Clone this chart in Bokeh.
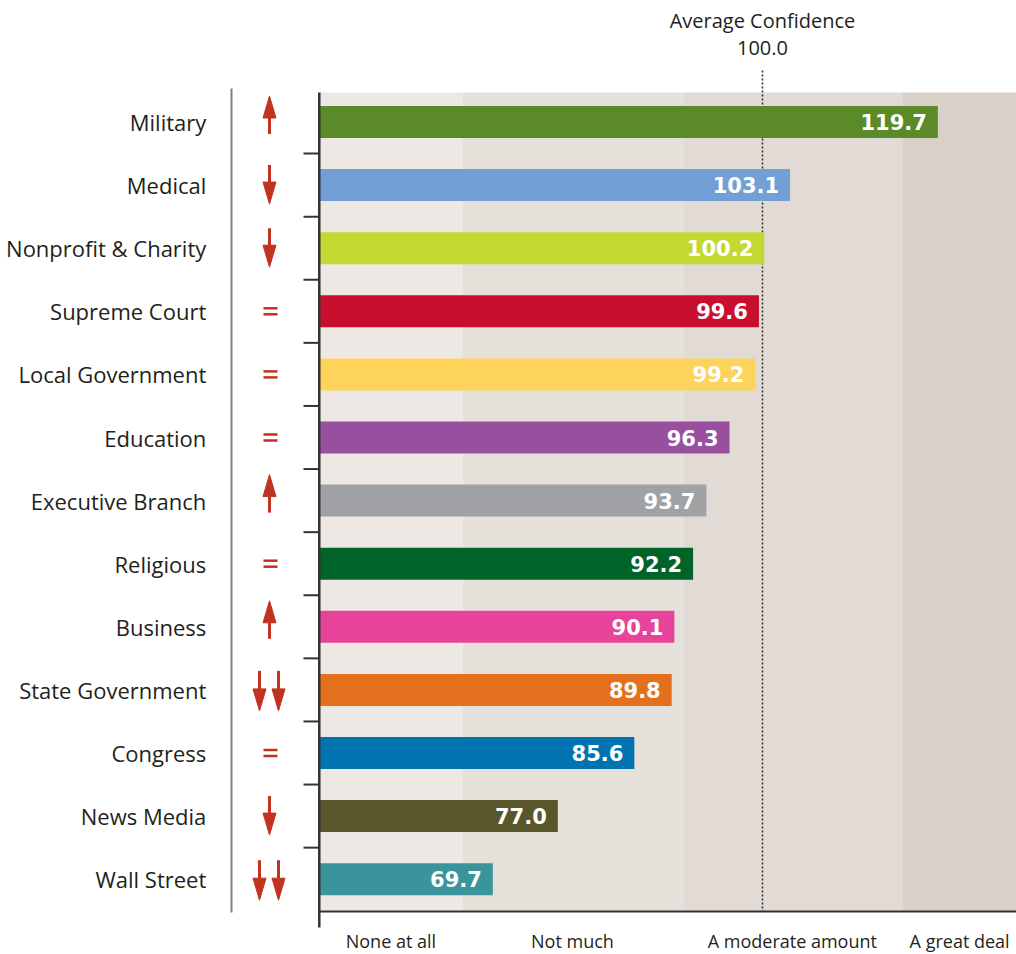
from bokeh.plotting import figure
from bokeh.models import Range1d, ColumnDataSource
from bokeh.core.properties import value
from bokeh.embed import file_html
from bokeh.resources import INLINE

# ---------------- data ----------------
categories = ["Military", "Medical", "Nonprofit & Charity", "Supreme Court",
              "Local Government", "Education", "Executive Branch", "Religious",
              "Business", "State Government", "Congress", "News Media", "Wall Street"]
scores = [119.7, 103.1, 100.2, 99.6, 99.2, 96.3, 93.7, 92.2, 90.1, 89.8, 85.6, 77.0, 69.7]
trends = ["up", "down", "down", "same", "same", "same", "up", "same", "up",
          "down2", "same", "down", "down2"]
bar_colors = ["#5b8a29", "#729fd4", "#c3d831", "#c8102e", "#fdd35b", "#994f9f",
              "#a0a2a5", "#006428", "#e7439a", "#e4701e", "#0073b1", "#5a562c", "#3a949b"]
band_labels = ["None at all", "Not much", "A moderate amount", "A great deal"]
band_edges = [50.2, 66.3, 91.0, 115.7, 128.6]
band_colors = ["#ede8e4", "#e6e0db", "#e1dad5", "#d9d0c8"]
average = 100.0

# ---------------- layout helpers (page pixels -> data) ----------------
W, H = 1016, 954
PXX = 8.9          # pixels per score unit
PXY = 63.1         # pixels per row
def X(px):
    return average + (px - 762) / PXX
def Y(py):
    return (py - 121.5) / PXY
def DX(d):
    return d / PXX
def DY(d):
    return d / PXY

BASE = band_edges[0]
rows = list(range(len(categories)))

p = figure(width=W, height=H, output_backend="svg", toolbar_location=None,
           x_range=Range1d(X(0), X(W)), y_range=Range1d(Y(H), Y(0)),
           min_border=0)
p.xaxis.visible = False
p.yaxis.visible = False
p.grid.visible = False
p.outline_line_color = None
p.background_fill_color = "white"

# background bands
p.quad(left=band_edges[:-1], right=band_edges[1:], top=Y(92), bottom=Y(911),
       fill_color=band_colors, line_color=None)

# average dotted line
p.segment(x0=[average], x1=[average], y0=[Y(70)], y1=[Y(911)],
          line_color="#333333", line_width=1.6, line_dash="2 2")

# bars
src = ColumnDataSource(dict(y=rows, right=scores, color=bar_colors,
                            label=["%.1f" % s for s in scores], cat=categories))
p.hbar(y="y", left=BASE, right="right", height=DY(32), fill_color="color",
       line_color=None, source=src)

# value labels
p.text(x="right", y="y", text="label", source=src, x_offset=-11,
       text_align="right", text_baseline="middle", text_color="white",
       text_font=value("DejaVu Sans"), text_font_style="bold", text_font_size="21px")

# category labels
p.text(x=[BASE] * len(categories), y=rows, text=categories, x_offset=-113,
       text_align="right", text_baseline="middle", text_color="#231f20",
       text_font=value("Open Sans"), text_font_size="22px")

# axis lines and ticks
p.segment(x0=[BASE], x1=[BASE], y0=[Y(92)], y1=[Y(927)], line_color="#333333", line_width=2.5)
p.segment(x0=[BASE], x1=[band_edges[-1]], y0=[Y(911)], y1=[Y(911)], line_color="#333333", line_width=2)
tick_y = [r + 0.5 for r in rows[:-1]]
p.segment(x0=[X(303)] * len(tick_y), x1=[BASE] * len(tick_y), y0=tick_y, y1=tick_y,
          line_color="#333333", line_width=2)
p.segment(x0=[X(231)], x1=[X(231)], y0=[Y(88)], y1=[Y(912)], line_color="#808080", line_width=2)

# trend arrows
red = "#c1321f"
hx, hy = [], []
sx0, sx1, sy0, sy1 = [], [], [], []
ex0, ex1, ey = [], [], []
for r, t in zip(rows, trends):
    if t == "up":
        xs = [X(269)]
        tip, tail, sign = r + DY(-26), r + DY(12), 1
    elif t == "down":
        xs = [X(269)]
        tip, tail, sign = r + DY(19), r + DY(-20), -1
    elif t == "down2":
        xs = [X(259), X(278)]
        tip, tail, sign = r + DY(21), r + DY(-19), -1
    else:
        for off in (-3, 3):
            ex0.append(X(263)); ex1.append(X(277)); ey.append(r + DY(off))
        continue
    base = tip + sign * DY(22)
    for xc in xs:
        hx.append([xc - DX(6.5), xc, xc + DX(6.5)])
        hy.append([base, tip, base])
        sx0.append(xc); sx1.append(xc); sy0.append(base); sy1.append(tail)

p.segment(x0=sx0, x1=sx1, y0=sy0, y1=sy1, line_color=red, line_width=3)
p.patches(xs=hx, ys=hy, fill_color=red, line_color=red, line_width=1)
p.segment(x0=ex0, x1=ex1, y0=ey, y1=ey, line_color=red, line_width=2.5)

# average annotation
p.text(x=[average, average], y=[Y(20), Y(47)], text=["Average Confidence", "%.1f" % average],
       text_align="center", text_baseline="middle", text_color="#231f20",
       text_font=value("Open Sans"), text_font_size="20px")

# band labels
mids = [(a + b) / 2 for a, b in zip(band_edges[:-1], band_edges[1:])]
p.text(x=mids, y=[Y(940)] * len(mids), text=band_labels,
       text_align="center", text_baseline="middle", text_color="#231f20",
       text_font=value("Open Sans"), text_font_size="18px")

open("out.html", "w").write(file_html(p, INLINE))
